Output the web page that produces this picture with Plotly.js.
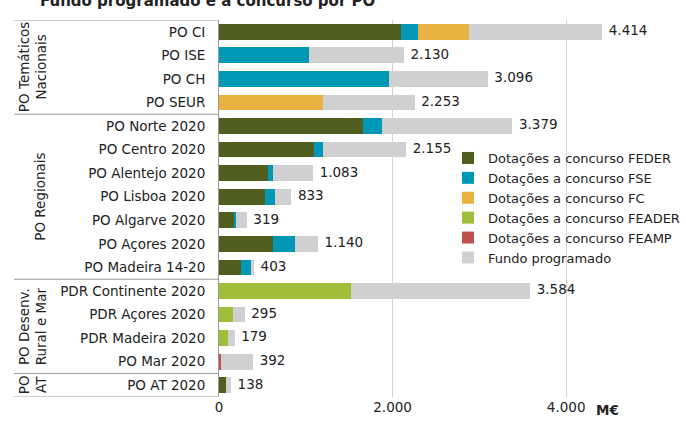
<!DOCTYPE html>
<html>
<head>
<meta charset="utf-8">
<script src="https://cdn.plot.ly/plotly-3.0.1.min.js"></script>
<style>html,body{margin:0;padding:0;background:#fff;}#chart{width:686px;height:421px;}</style>
</head>
<body>
<div id="chart"></div>
<script>
// ---- data ----
var categories = ["PO CI","PO ISE","PO CH","PO SEUR","PO Norte 2020","PO Centro 2020","PO Alentejo 2020","PO Lisboa 2020","PO Algarve 2020","PO Açores 2020","PO Madeira 14-20","PDR Continente 2020","PDR Açores 2020","PDR Madeira 2020","PO Mar 2020","PO AT 2020"];
var feder  = [2100,    0,    0,    0, 1662, 1089, 563, 525, 167, 621, 252,    0,   0,   0,   0,  78];
var fse    = [ 193, 1032, 1954,    0,  211,  104,  62, 115,  28, 254, 116,    0,   0,   0,   0,   0];
var fc     = [ 590,    0,    0, 1193,    0,    0,   0,   0,   0,   0,   0,    0,   0,   0,   0,   0];
var feader = [   0,    0,    0,    0,    0,    0,   0,   0,   0,   0,   0, 1516, 156,  98,   0,   0];
var feamp  = [   0,    0,    0,    0,    0,    0,   0,   0,   0,   0,   0,    0,   0,   0,  25,   0];
var fundoProgramado = [4414, 2130, 3096, 2253, 3379, 2155, 1083, 833, 319, 1140, 403, 3584, 295, 179, 392, 138];
var seriesNames = ["Dotações a concurso FEDER","Dotações a concurso FSE","Dotações a concurso FC","Dotações a concurso FEADER","Dotações a concurso FEAMP","Fundo programado"];
var groupLabels = ["PO Temáticos<br>Nacionais","PO Regionais","PO Desenv.<br>Rural e Mar","PO<br>AT"];
var groupStart = [0, 4, 11, 15];
var groupEnd   = [3, 10, 14, 15];
var xTickVals = [0, 2000, 4000];
var xTickText = ["0", "2.000", "4.000"];
var unitLabel = "M€";
var titleText = "Fundo programado e a concurso por PO";

// ---- styling ----
var colors = ["#505f20", "#0099b5", "#e9b042", "#9fbf3b", "#c0504d", "#d0d0d2"];
var FONT = "DejaVu Sans, sans-serif";
var TXT = "#222";

function fmt(v){ return String(v).replace(/\B(?=(\d{3})+(?!\d))/g, "."); }

var remainder = fundoProgramado.map(function(t,i){
  return t - feder[i] - fse[i] - fc[i] - feader[i] - feamp[i];
});
var stackSeries = [feder, fse, fc, feader, feamp, remainder];

var traces = stackSeries.map(function(vals, k){
  return {
    type: "bar", orientation: "h", name: seriesNames[k],
    x: vals, y: categories,
    marker: {color: colors[k], line: {width: 0}},
    hoverinfo: "none"
  };
});
traces.push({
  type: "scatter", mode: "markers+text", showlegend: false,
  x: fundoProgramado, y: categories,
  marker: {size: 9, opacity: 0, color: "#fff"},
  text: fundoProgramado.map(fmt),
  textposition: "middle right",
  textfont: {family: FONT, size: 13.5, color: TXT},
  hoverinfo: "none", cliponaxis: false
});

var L = 219, PW = 434;
function px2paper(p){ return (p - L) / PW; }
var nCat = categories.length;

var shapes = [];
var seps = [-0.5, 3.5, 10.5, 14.5, 15.5];
seps.forEach(function(s){
  shapes.push({type: "line", xref: "paper", yref: "y", x0: px2paper(14), x1: 0, y0: s, y1: s,
               line: {color: "#9a9a9a", width: 1}});
});

var annotations = groupLabels.map(function(g, i){
  var single = g.indexOf("<br>") < 0;
  return {xref: "paper", yref: "y", x: px2paper(single ? 40 : 33), y: (groupStart[i] + groupEnd[i]) / 2,
          text: g, textangle: -90, showarrow: false, align: "center",
          xanchor: "center", yanchor: "middle",
          font: {family: FONT, size: 13.5, color: TXT}};
});
annotations.push({xref: "x", yref: "paper", x: 4480, y: 0, yshift: -13, yanchor: "middle", xanchor: "center",
  text: "<b>" + unitLabel + "</b>", showarrow: false, font: {family: FONT, size: 13.5, color: TXT}});

var layout = {
  width: 686, height: 421,
  margin: {l: L, r: 686 - L - PW, t: 20, b: 24, autoexpand: false},
  paper_bgcolor: "#fff", plot_bgcolor: "#fff",
  barmode: "stack", bargap: 0.333,
  font: {family: FONT, size: 13.5, color: TXT},
  title: {text: "<b>" + titleText + "</b>", x: 40/686, xanchor: "left", xref: "container",
          y: 0.998, yanchor: "middle", yref: "container",
          font: {family: FONT, size: 15, color: TXT}},
  xaxis: {range: [0, 5000], tickvals: xTickVals, ticktext: xTickText, showgrid: true,
          gridcolor: "#d3d3d3", gridwidth: 1, zeroline: false, showline: false, ticks: "",
          tickfont: {family: FONT, size: 13.5, color: TXT}, fixedrange: true},
  yaxis: {type: "category", categoryarray: categories, range: [nCat - 0.5, -0.5], autorange: false,
          showgrid: false, zeroline: false, showline: true, linecolor: "#9a9a9a", linewidth: 1,
          ticks: "", ticklabelstandoff: 10,
          tickfont: {family: FONT, size: 13.5, color: TXT}, fixedrange: true},
  legend: {x: px2paper(448), y: (397 - 143) / 377, xanchor: "left", yanchor: "top",
           bgcolor: "rgba(0,0,0,0)", traceorder: "normal",
           font: {family: FONT, size: 13, color: TXT}, itemwidth: 30},
  shapes: shapes,
  annotations: annotations,
  showlegend: true
};

Plotly.newPlot("chart", traces, layout, {displayModeBar: false, staticPlot: true});
</script>
</body>
</html>
